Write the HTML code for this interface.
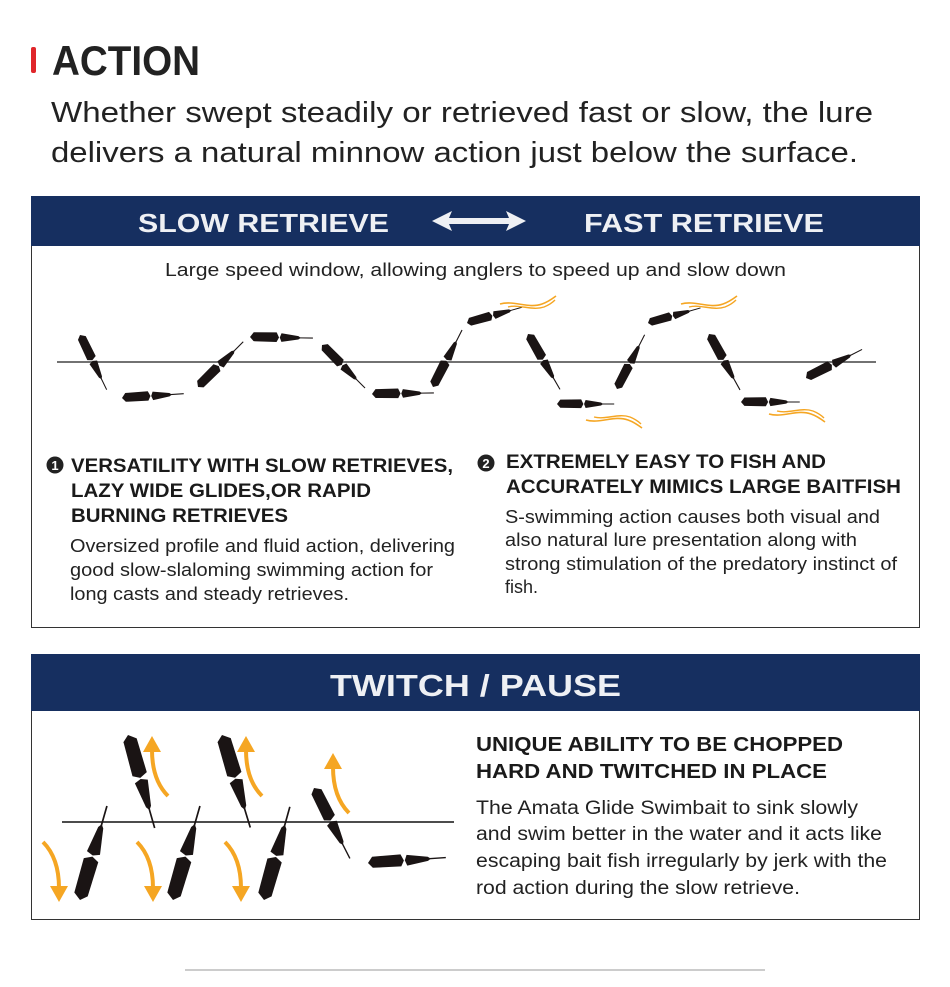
<!DOCTYPE html>
<html><head><meta charset="utf-8"><style>
html,body{margin:0;padding:0;background:#fff;}
svg{display:block;font-family:"Liberation Sans",Arial,sans-serif;}
</style></head><body>
<svg width="950" height="987" viewBox="0 0 950 987" xmlns="http://www.w3.org/2000/svg">
<defs>
<g id="f">
<path d="M0,0 L3,-4 L22,-4.2 L24,0 L22,3.8 L3,3.4 Z" fill="#1a1414"/>
<path d="M24.6,0 L26,-3.6 L40,-1.4 L42,0 L40,1.4 L26,3.6 Z" fill="#1a1414"/>
<line x1="41" y1="0" x2="52" y2="0" stroke="#1a1414" stroke-width="0.9"/>
</g>
<g id="sq">
<path d="M0,4 C14,0 28,9 42,4 C48,2 52,-1 56,-4" fill="none" stroke="#f5a623" stroke-width="1.6"/>
<path d="M8,7 C20,4 32,11 44,7 C49,5 52,3 55,0" fill="none" stroke="#f5a623" stroke-width="1.4"/>
</g>
<g id="au">
<path d="M18,58 Q2,42 2,12" fill="none" stroke="#f5a623" stroke-width="4"/>
<polygon points="-7,14 2,-2 11,14" fill="#f5a623"/>
</g>
</defs>

<rect x="31" y="47" width="5" height="26" rx="2" fill="#e0262b"/>
<text x="52" y="75" font-size="42" font-weight="bold" fill="#222" textLength="148" lengthAdjust="spacingAndGlyphs">ACTION</text>
<text x="51" y="122" font-size="29" fill="#222" textLength="822" lengthAdjust="spacingAndGlyphs">Whether swept steadily or retrieved fast or slow, the lure</text>
<text x="51" y="162" font-size="29" fill="#222" textLength="807" lengthAdjust="spacingAndGlyphs">delivers a natural minnow action just below the surface.</text>

<!-- panel 1 -->
<rect x="31.5" y="196.5" width="888" height="431" fill="#fff" stroke="#333" stroke-width="1"/>
<rect x="31" y="196" width="889" height="50" fill="#162f60"/>
<text x="138" y="232" font-size="26" font-weight="bold" fill="#eef0f4" textLength="251" lengthAdjust="spacingAndGlyphs">SLOW RETRIEVE</text>
<text x="584" y="232" font-size="26" font-weight="bold" fill="#eef0f4" textLength="240" lengthAdjust="spacingAndGlyphs">FAST RETRIEVE</text>
<polygon points="432,221 452,211 449,218 509,218 506,211 526,221 506,231 509,224 449,224 452,231" fill="#eef0f4"/>
<text x="165" y="276" font-size="18" fill="#222" textLength="621" lengthAdjust="spacingAndGlyphs">Large speed window, allowing anglers to speed up and slow down</text>

<line x1="57" y1="362" x2="876" y2="362" stroke="#444" stroke-width="1.6"/>
<use href="#f" transform="translate(80,335) rotate(64) scale(1.17)"/>
<use href="#f" transform="translate(122,398) rotate(-4) scale(1.19)"/>
<use href="#f" transform="translate(198,387) rotate(-45) scale(1.23)"/>
<use href="#f" transform="translate(250,337) rotate(1) scale(1.21)"/>
<use href="#f" transform="translate(322,345) rotate(45) scale(1.17)"/>
<use href="#f" transform="translate(372,394) rotate(-1) scale(1.19)"/>
<use href="#f" transform="translate(433,387) rotate(-63) scale(1.23)"/>
<use href="#f" transform="translate(467,323) rotate(-16) scale(1.1)"/>
<use href="#f" transform="translate(528,334) rotate(60) scale(1.23)"/>
<use href="#f" transform="translate(557,404) rotate(0) scale(1.1)"/>
<use href="#f" transform="translate(617,389) rotate(-63) scale(1.17)"/>
<use href="#f" transform="translate(648,323) rotate(-16) scale(1.05)"/>
<use href="#f" transform="translate(709,334) rotate(61) scale(1.23)"/>
<use href="#f" transform="translate(741,402) rotate(0) scale(1.13)"/>
<use href="#f" transform="translate(806,378) rotate(-27) scale(1.21)"/>
<use href="#sq" transform="translate(500,300)"/>
<use href="#sq" transform="translate(586,424) scale(1,-1)"/>
<use href="#sq" transform="translate(681,300)"/>
<use href="#sq" transform="translate(769,418) scale(1,-1)"/>

<circle cx="55" cy="465" r="8.5" fill="#222"/>
<text x="55" y="470" font-size="13" font-weight="bold" fill="#fff" text-anchor="middle">1</text>
<text x="71" y="472" font-size="19" font-weight="bold" fill="#1a1a1a" textLength="382" lengthAdjust="spacingAndGlyphs">VERSATILITY WITH SLOW RETRIEVES,</text>
<text x="71" y="497" font-size="19" font-weight="bold" fill="#1a1a1a" textLength="300" lengthAdjust="spacingAndGlyphs">LAZY WIDE GLIDES,OR RAPID</text>
<text x="71" y="522" font-size="19" font-weight="bold" fill="#1a1a1a" textLength="217" lengthAdjust="spacingAndGlyphs">BURNING RETRIEVES</text>
<text x="70" y="552" font-size="18" fill="#222" textLength="385" lengthAdjust="spacingAndGlyphs">Oversized profile and fluid action, delivering</text>
<text x="70" y="576" font-size="18" fill="#222" textLength="363" lengthAdjust="spacingAndGlyphs">good slow-slaloming swimming action for</text>
<text x="70" y="600" font-size="18" fill="#222" textLength="279" lengthAdjust="spacingAndGlyphs">long casts and steady retrieves.</text>

<circle cx="486" cy="463" r="8.5" fill="#222"/>
<text x="486" y="468" font-size="13" font-weight="bold" fill="#fff" text-anchor="middle">2</text>
<text x="506" y="468" font-size="19" font-weight="bold" fill="#1a1a1a" textLength="320" lengthAdjust="spacingAndGlyphs">EXTREMELY EASY TO FISH AND</text>
<text x="506" y="493" font-size="19" font-weight="bold" fill="#1a1a1a" textLength="395" lengthAdjust="spacingAndGlyphs">ACCURATELY MIMICS LARGE BAITFISH</text>
<text x="505" y="523" font-size="18" fill="#222" textLength="375" lengthAdjust="spacingAndGlyphs">S-swimming action causes both visual and</text>
<text x="505" y="546" font-size="18" fill="#222" textLength="352" lengthAdjust="spacingAndGlyphs">also natural lure presentation along with</text>
<text x="505" y="570" font-size="18" fill="#222" textLength="392" lengthAdjust="spacingAndGlyphs">strong stimulation of the predatory instinct of</text>
<text x="505" y="593" font-size="18" fill="#222">fish.</text>

<!-- panel 2 -->
<rect x="31.5" y="654.5" width="888" height="265" fill="#fff" stroke="#333" stroke-width="1"/>
<rect x="31" y="654" width="889" height="57" fill="#162f60"/>
<text x="330" y="696" font-size="31" font-weight="bold" fill="#eef0f4" textLength="291" lengthAdjust="spacingAndGlyphs">TWITCH / PAUSE</text>

<line x1="62" y1="822" x2="454" y2="822" stroke="#111" stroke-width="1.6"/>
<use href="#f" transform="translate(128,735) rotate(74) scale(1.86)"/>
<use href="#f" transform="translate(222,735) rotate(73) scale(1.86)"/>
<use href="#f" transform="translate(314,788) rotate(63) scale(1.52)"/>
<use href="#f" transform="translate(80,900) rotate(-74) scale(1.88)"/>
<use href="#f" transform="translate(173,900) rotate(-74) scale(1.88)"/>
<use href="#f" transform="translate(264,900) rotate(-74.5) scale(1.86)"/>
<use href="#f" transform="translate(368,863) rotate(-4) scale(1.5)"/>
<use href="#au" transform="translate(150,738)"/>
<use href="#au" transform="translate(244,738)"/>
<use href="#au" transform="translate(331,755)"/>
<use href="#au" transform="translate(61,900) scale(-1,-1)"/>
<use href="#au" transform="translate(155,900) scale(-1,-1)"/>
<use href="#au" transform="translate(243,900) scale(-1,-1)"/>

<text x="476" y="751" font-size="20" font-weight="bold" fill="#1a1a1a" textLength="367" lengthAdjust="spacingAndGlyphs">UNIQUE ABILITY TO BE CHOPPED</text>
<text x="476" y="778" font-size="20" font-weight="bold" fill="#1a1a1a" textLength="351" lengthAdjust="spacingAndGlyphs">HARD AND TWITCHED IN PLACE</text>
<text x="476" y="814" font-size="19" fill="#222" textLength="382" lengthAdjust="spacingAndGlyphs">The Amata Glide Swimbait to sink slowly</text>
<text x="476" y="840" font-size="19" fill="#222" textLength="406" lengthAdjust="spacingAndGlyphs">and swim better in the water and it acts like</text>
<text x="476" y="867" font-size="19" fill="#222" textLength="411" lengthAdjust="spacingAndGlyphs">escaping bait fish irregularly by jerk with the</text>
<text x="476" y="894" font-size="19" fill="#222" textLength="324" lengthAdjust="spacingAndGlyphs">rod action during the slow retrieve.</text>

<line x1="185" y1="970" x2="765" y2="970" stroke="#999" stroke-width="1"/>
</svg>
</body></html>
